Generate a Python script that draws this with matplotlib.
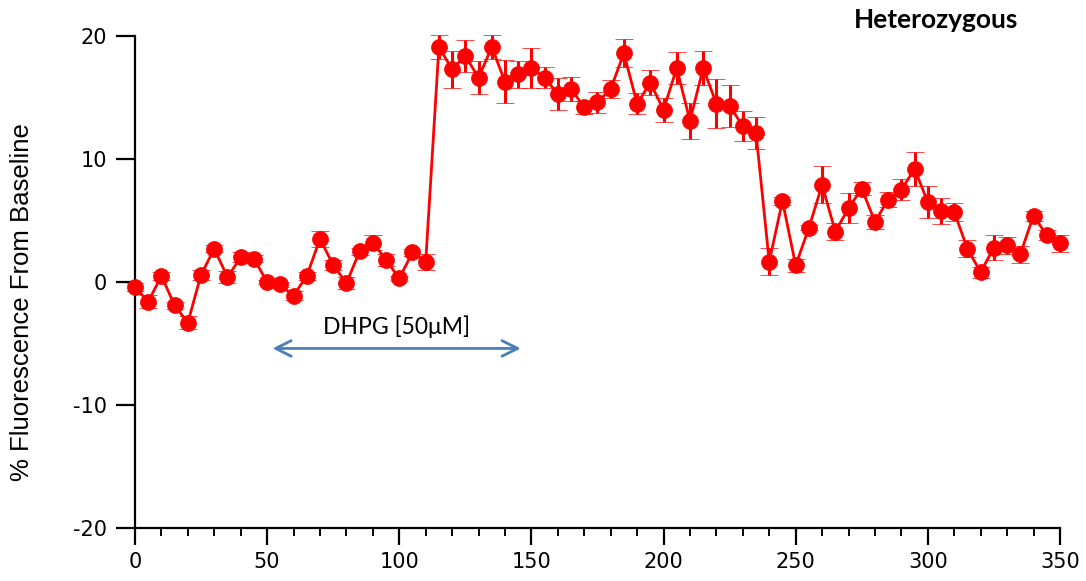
import numpy as np
import matplotlib
matplotlib.use("Agg")
import matplotlib.pyplot as plt
from matplotlib.ticker import MultipleLocator

plt.rcParams["axes.unicode_minus"] = False

# Time points (s) and mean % change in fluorescence with SEM
time_s = list(range(0, 355, 5))

baseline_mean = [-0.4, -1.6, 0.5, -1.9, -3.3, 0.6, 2.7, 0.4, 2.0, 1.9,
                 0.0, -0.2, -1.1, 0.5, 3.5, 1.4, -0.1, 2.5, 3.2, 1.8,
                 0.3, 2.4, 1.6]
dhpg_mean = [19.1, 17.3, 18.4, 16.6, 19.1, 16.3, 16.9, 17.4, 16.6, 15.3,
             15.7, 14.2, 14.6, 15.7, 18.6, 14.5, 16.2, 14.0, 17.4, 13.1,
             17.4, 14.5, 14.3, 12.7, 12.1]
washout_mean = [1.65, 6.6, 1.35, 4.4, 7.9, 4.1, 6.0, 7.6, 4.9, 6.7,
                7.5, 9.2, 6.5, 5.8, 5.7, 2.7, 0.8, 2.8, 3.0, 2.25,
                5.4, 3.8, 3.15]

baseline_sem = [0.3, 0.55, 0.3, 0.3, 0.5, 0.4, 0.3, 0.5, 0.4, 0.3,
                0.2, 0.2, 0.4, 0.3, 0.65, 0.4, 0.5, 0.3, 0.6, 0.5,
                0.2, 0.3, 0.65]
dhpg_sem = [1.0, 1.5, 1.3, 1.35, 0.95, 1.75, 1.1, 1.6, 0.85, 1.3,
            1.0, 0.55, 0.85, 0.7, 1.15, 0.85, 1.0, 1.0, 1.3, 1.45,
            1.4, 2.0, 1.7, 1.2, 1.3]
washout_sem = [1.1, 0.35, 0.55, 0.2, 1.5, 0.7, 1.2, 0.55, 0.55, 0.6,
               0.85, 1.4, 1.3, 1.05, 0.75, 0.7, 0.45, 1.05, 0.7, 0.7,
               0.4, 0.4, 0.7]

mean_pct = baseline_mean + dhpg_mean + washout_mean
sem_pct = baseline_sem + dhpg_sem + washout_sem

panel_title = "Heterozygous"
drug_label = "DHPG [50\u03bcM]"
drug_start, drug_end, drug_y = 51, 147, -5.4

RED = "#ff0000"

fig = plt.figure(figsize=(10.86, 5.81), dpi=100)
ax = fig.add_axes([0.1243, 0.0912, 0.8517, 0.8468])

container = ax.errorbar(time_s, mean_pct, yerr=sem_pct, color=RED, ecolor=RED,
                        linewidth=2.0, elinewidth=2.2, capsize=6.5, capthick=2.4,
                        marker="o", markersize=11.5, markerfacecolor=RED,
                        markeredgecolor=RED, markeredgewidth=0.5, zorder=3)
for artist in container.get_children():
    artist.set_clip_on(False)

ax.set_xlim(0, 350)
ax.set_ylim(-20, 20)
ax.xaxis.set_major_locator(MultipleLocator(50))
ax.xaxis.set_minor_locator(MultipleLocator(10))
ax.yaxis.set_major_locator(MultipleLocator(10))

for side in ("top", "right"):
    ax.spines[side].set_visible(False)
for side in ("left", "bottom"):
    ax.spines[side].set_linewidth(1.6)
    ax.spines[side].set_color("black")

ax.tick_params(axis="both", which="major", direction="out", width=1.6,
               labelsize=15, colors="black")
ax.tick_params(axis="y", which="major", length=14, pad=6)
ax.tick_params(axis="x", which="major", length=12, pad=5)
ax.tick_params(axis="x", which="minor", direction="out", length=6, width=1.4)

ax.set_ylabel("% Fluorescence From Baseline", fontsize=18.5,
              family="Liberation Sans", va="center")
ax.yaxis.set_label_coords(-0.122, 0.459)

fig.text(0.862, 0.965, panel_title, ha="center", va="center",
         fontsize=19, fontweight="bold", family="Lato")

ax.text((drug_start + drug_end) / 2, -3.6, drug_label, ha="center",
        va="center", fontsize=16.5, family="Lato")
ax.annotate("", xy=(drug_start, drug_y), xytext=(drug_end, drug_y),
            arrowprops=dict(arrowstyle="<->", color="#4a7ebb", lw=2,
                            mutation_scale=28))

fig.savefig("out.png", dpi=100)
